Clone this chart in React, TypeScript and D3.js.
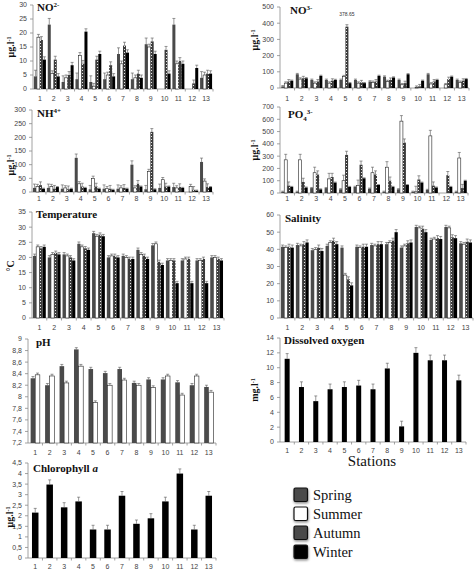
import React from 'react';
import * as d3 from 'd3';

const STATIONS = ['1','2','3','4','5','6','7','8','9','10','11','12','13'];
const SEASONS = ['Spring','Summer','Autumn','Winter'];

// NO2- (µg/l)
const NO2_SPRING = [4.5, 23, 2.5, 3.5, 2.5, 3.5, 12.5, 3.5, 16, 0, 23, 0, 4];
const NO2_SUMMER = [18.5, 5.5, 4, 12, 1, 5, 9, 4, 15, 0, 9, 0, 5];
const NO2_AUTUMN = [17.5, 10.5, 5, 9, 10.5, 8.5, 15.5, 5.5, 17, 14, 10, 2, 5.5];
const NO2_WINTER = [10.5, 4.5, 8.5, 20.5, 12.5, 4.5, 13, 4, 12.5, 5.5, 9, 7.5, 5.5];
const NO2_ERR = [2.2, 1, 1.2, 1];
// NO3- (µg/l)
const NO3_SPRING = [10, 85, 50, 50, 50, 50, 40, 70, 50, 0, 85, 0, 50];
const NO3_SUMMER = [30, 55, 30, 30, 70, 30, 35, 40, 20, 5, 25, 20, 35];
const NO3_AUTUMN = [40, 60, 40, 45, 378.65, 35, 40, 50, 30, 10, 40, 55, 45];
const NO3_WINTER = [45, 60, 75, 50, 30, 30, 75, 65, 85, 45, 50, 70, 55];
const NO3_ERR = [5, 8, 12, 4];
// NH4+ (µg/l)
const NH4_SPRING = [15, 15, 12, 125, 10, 12, 12, 100, 10, 15, 18, 0, 110];
const NH4_SUMMER = [20, 20, 15, 30, 50, 12, 15, 15, 75, 45, 15, 20, 40];
const NH4_AUTUMN = [25, 12, 10, 20, 20, 12, 15, 30, 220, 20, 18, 8, 18];
const NH4_WINTER = [12, 18, 12, 15, 12, 8, 12, 20, 10, 20, 15, 5, 18];
const NH4_ERR = [14, 8, 12, 2];
// PO4 3- (µg/l)
const PO4_SPRING = [10, 10, 40, 40, 30, 50, 35, 10, 30, 10, 25, 0, 10];
const PO4_SUMMER = [270, 270, 165, 115, 100, 60, 165, 210, 585, 10, 465, 0, 285];
const PO4_AUTUMN = [60, 90, 150, 130, 310, 230, 150, 100, 410, 110, 60, 145, 40];
const PO4_WINTER = [50, 45, 30, 85, 50, 120, 65, 50, 65, 85, 45, 50, 100];
const PO4_ERR = [5, 45, 30, 4];
// Temperature (°C)
const TEMP_SPRING = [20.5, 20, 21, 24.5, 28, 20, 20.5, 22.5, 24, 19, 19, 19, 20];
const TEMP_SUMMER = [23.5, 21, 20.5, 23.5, 27, 20.5, 20, 21, 24.5, 19, 19.5, 19, 20];
const TEMP_AUTUMN = [23, 21.5, 20, 23, 27.5, 20.5, 19.5, 20.5, 18.5, 19, 19.5, 19.5, 19.5];
const TEMP_WINTER = [23.5, 21, 19, 22.5, 27, 20, 19.5, 19.5, 17.5, 11.5, 11.5, 11.5, 19];
const TEMP_ERR = [0.6, 0.6, 0.6, 0.6];
// Salinity
const SAL_SPRING = [41.5, 42.5, 39.5, 42, 41, 41.5, 42.5, 43, 41, 53, 45.5, 53, 43.5];
const SAL_SUMMER = [41, 42, 40, 44, 25, 41, 42, 44, 42, 52.5, 46, 52.5, 43];
const SAL_AUTUMN = [41.5, 43, 41, 45, 22.5, 41.5, 43, 45, 43.5, 52, 46.5, 47, 44.5];
const SAL_WINTER = [41, 44, 39, 43, 19, 41.5, 43, 50, 44, 50, 46, 46.5, 44];
const SAL_ERR = [1, 1, 1.5, 1.5];
// pH
const PH_SPRING = [8.32, 8.2, 8.53, 8.82, 8.48, 8.41, 8.48, 8.24, 8.3, 8.3, 8.25, 8.2, 8.17];
const PH_SUMMER = [8.38, 8.36, 8.24, 8.53, 7.9, 8.2, 8.29, 8.2, 8.16, 8.36, 8.03, 8.36, 8.08];
const PH_ERR = [0.03, 0.03];
// Dissolved oxygen (mg/l), winter
const DO_WINTER = [11.2, 7.4, 5.5, 7.1, 7.4, 7.6, 7.1, 9.9, 2.1, 12, 11, 11, 8.3];
const DO_ERR = [0.7, 0.7, 0.7, 0.7, 0.7, 0.7, 0.7, 0.7, 0.7, 0.7, 0.7, 0.7, 0.7];
// Chlorophyll a (µg/l), winter
const CHL_WINTER = [2.15, 3.48, 2.4, 2.68, 1.35, 1.35, 2.95, 1.62, 1.88, 2.68, 4.0, 1.35, 2.95];
const CHL_ERR = [0.2, 0.22, 0.22, 0.2, 0.2, 0.2, 0.2, 0.18, 0.22, 0.2, 0.22, 0.2, 0.2];

const FILL: Record<string, string> = {
  Spring: '#4a4a4a',
  Summer: '#ffffff',
  Autumn: 'url(#dots)',
  Winter: '#000000',
};

type Series = { key: string; values: number[]; err: number[] };
type Spec = {
  id: string;
  title: React.ReactNode;
  unit?: React.ReactNode;
  unitX?: number; unitY?: number;
  x0: number; x1: number; yBot: number; yTop: number;
  domain: [number, number]; step: number; comma?: boolean;
  series: Series[]; barW: number;
  titleX: number; titleY: number; labelY: number;
  note?: { text: string; station: string; series: string };
};

const serif = '"Liberation Serif", "DejaVu Serif", serif';
const sans = '"Liberation Sans", "DejaVu Sans", sans-serif';

const ug = (
  <>μg.l<tspan dy={-3} fontSize={6}>-1</tspan></>
);

function perSeries(err: number[], n: number) {
  return err;
}

function fmt(v: number, comma?: boolean) {
  const s = String(+v.toFixed(2));
  return comma ? s.replace('.', ',') : s;
}

function Panel({ s }: { s: Spec }) {
  const x = d3.scaleBand<string>().domain(STATIONS).range([s.x0, s.x1]);
  const y = d3.scaleLinear().domain(s.domain).range([s.yBot, s.yTop]);
  const n = s.series.length;
  const sub = d3.scaleBand<string>().domain(s.series.map(d => d.key)).range([0, s.barW * n]);
  const ticks = d3.range(s.domain[0], s.domain[1] + s.step / 2, s.step);
  const axisColor = '#8a8a8a';
  return (
    <g>
      {/* y axis */}
      <line x1={s.x0} x2={s.x0} y1={s.yBot} y2={s.yTop} stroke={axisColor} strokeWidth={0.8} />
      {ticks.map((t, i) => (
        <g key={i}>
          <line x1={s.x0 - 3} x2={s.x0} y1={y(t)} y2={y(t)} stroke={axisColor} strokeWidth={0.8} />
          <text x={s.x0 - 6} y={y(t)} dy="0.35em" textAnchor="end" fontFamily={sans} fontSize={7} fill="#444">
            {fmt(t, s.comma)}
          </text>
        </g>
      ))}
      {/* x axis */}
      <line x1={s.x0} x2={s.x1} y1={s.yBot} y2={s.yBot} stroke={axisColor} strokeWidth={0.8} />
      {STATIONS.map(st => (
        <g key={st}>
          <line x1={(x(st) as number) + x.bandwidth()} x2={(x(st) as number) + x.bandwidth()} y1={s.yBot} y2={s.yBot + 2.5} stroke={axisColor} strokeWidth={0.8} />
          <text x={(x(st) as number) + x.bandwidth() / 2} y={s.labelY} dy="0.35em" textAnchor="middle" fontFamily={sans} fontSize={7} fill="#444">{st}</text>
        </g>
      ))}
      {/* bars */}
      {s.series.map((ser) => (
        <g key={ser.key}>
          {ser.values.map((v, i) => {
            const st = STATIONS[i];
            const bx = (x(st) as number) + x.bandwidth() / 2 - (s.barW * n) / 2 + (sub(ser.key) as number);
            const yb = y(s.domain[0]);
            const yv = y(v);
            const e = ser.err[i % ser.err.length];
            const ye = y(v + e);
            const cx = bx + s.barW / 2;
            return (
              <g key={i}>
                {v > s.domain[0] && (
                  <rect x={bx} y={yv} width={s.barW} height={Math.max(0, yb - yv)} fill={FILL[ser.key]}
                    stroke={ser.key === 'Summer' ? '#222' : 'none'} strokeWidth={ser.key === 'Summer' ? 0.6 : 0} />
                )}
                {v > s.domain[0] && (
                  <g stroke="#555" strokeWidth={0.6}>
                    <line x1={cx} x2={cx} y1={yv} y2={ye} />
                    <line x1={cx - 1.5} x2={cx + 1.5} y1={ye} y2={ye} />
                  </g>
                )}
              </g>
            );
          })}
        </g>
      ))}
      {s.note && (() => {
        const ser = s.series.find(d => d.key === s.note!.series)!;
        const i = STATIONS.indexOf(s.note!.station);
        const bx = (x(s.note!.station) as number) + x.bandwidth() / 2 - (s.barW * n) / 2 + (sub(ser.key) as number) + s.barW / 2;
        return <text x={bx} y={y(ser.values[i]) - 11} textAnchor="middle" fontFamily={sans} fontSize={5} fill="#333">{s.note!.text}</text>;
      })()}
      <text x={s.titleX} y={s.titleY} fontFamily={serif} fontWeight="bold" fontSize={11} fill="#111">{s.title}</text>
      {s.unit && (
        <text transform={`translate(${s.unitX},${s.unitY}) rotate(-90)`} textAnchor="middle" fontFamily={serif} fontWeight="bold" fontSize={10} fill="#111">{s.unit}</text>
      )}
    </g>
  );
}

const four = (a: number[], b: number[], c: number[], d: number[], err: number[]): Series[] => [
  { key: 'Spring', values: a, err: [err[0]] },
  { key: 'Summer', values: b, err: [err[1]] },
  { key: 'Autumn', values: c, err: [err[2]] },
  { key: 'Winter', values: d, err: [err[3]] },
];

const SPECS: Spec[] = [
  {
    id: 'no2', title: <>NO<tspan dy={-4} fontSize={7}>2-</tspan></>, unit: ug, unitX: 14, unitY: 47,
    x0: 33, x1: 213, yBot: 89, yTop: 5, domain: [0, 30], step: 5,
    series: four(NO2_SPRING, NO2_SUMMER, NO2_AUTUMN, NO2_WINTER, NO2_ERR), barW: 3,
    titleX: 37, titleY: 11, labelY: 99,
  },
  {
    id: 'no3', title: <>NO<tspan dy={-4} fontSize={7}>3-</tspan></>, unit: ug, unitX: 258, unitY: 40,
    x0: 280, x1: 469, yBot: 88, yTop: 7, domain: [0, 500], step: 100,
    series: four(NO3_SPRING, NO3_SUMMER, NO3_AUTUMN, NO3_WINTER, NO3_ERR), barW: 3,
    titleX: 290, titleY: 14, labelY: 99,
    note: { text: '378.65', station: '5', series: 'Autumn' },
  },
  {
    id: 'nh4', title: <>NH<tspan dy={-4} fontSize={7}>4+</tspan></>, unit: ug, unitX: 14, unitY: 165,
    x0: 32, x1: 213, yBot: 192, yTop: 110, domain: [0, 300], step: 50,
    series: four(NH4_SPRING, NH4_SUMMER, NH4_AUTUMN, NH4_WINTER, NH4_ERR), barW: 3,
    titleX: 37, titleY: 117, labelY: 199,
  },
  {
    id: 'po4', title: <>PO<tspan dy={3} fontSize={7}>4</tspan><tspan dy={-7} fontSize={7}>3-</tspan></>, unit: ug, unitX: 258, unitY: 150,
    x0: 280, x1: 468, yBot: 193, yTop: 107, domain: [0, 700], step: 100,
    series: four(PO4_SPRING, PO4_SUMMER, PO4_AUTUMN, PO4_WINTER, PO4_ERR), barW: 3,
    titleX: 288, titleY: 118, labelY: 199,
  },
  {
    id: 'temp', title: 'Temperature', unit: '°C', unitX: 14, unitY: 266,
    x0: 32, x1: 224, yBot: 318, yTop: 212, domain: [0, 35], step: 5,
    series: four(TEMP_SPRING, TEMP_SUMMER, TEMP_AUTUMN, TEMP_WINTER, TEMP_ERR), barW: 3.2,
    titleX: 36, titleY: 218, labelY: 328,
  },
  {
    id: 'sal', title: 'Salinity',
    x0: 280, x1: 473, yBot: 318, yTop: 215, domain: [0, 60], step: 10,
    series: four(SAL_SPRING, SAL_SUMMER, SAL_AUTUMN, SAL_WINTER, SAL_ERR), barW: 3.2,
    titleX: 285, titleY: 222, labelY: 328,
  },
  {
    id: 'ph', title: 'pH',
    x0: 28, x1: 216, yBot: 443, yTop: 339, domain: [7.2, 9], step: 0.2, comma: true,
    series: [
      { key: 'Spring', values: PH_SPRING, err: [PH_ERR[0]] },
      { key: 'Summer', values: PH_SUMMER, err: [PH_ERR[1]] },
    ], barW: 4.6,
    titleX: 36, titleY: 346, labelY: 453,
  },
  {
    id: 'do', title: 'Dissolved oxygen', unit: <>mg.l<tspan dy={-3} fontSize={6}>-1</tspan></>, unitX: 258, unitY: 390,
    x0: 280, x1: 466, yBot: 442, yTop: 338, domain: [0, 14], step: 2,
    series: [{ key: 'Winter', values: DO_WINTER, err: DO_ERR }], barW: 5,
    titleX: 284, titleY: 344, labelY: 451,
  },
  {
    id: 'chl', title: <>Chlorophyll <tspan fontStyle="italic">a</tspan></>, unit: ug, unitX: 13, unitY: 517,
    x0: 28, x1: 216, yBot: 558, yTop: 463, domain: [0, 4.5], step: 0.5, comma: true,
    series: [{ key: 'Winter', values: CHL_WINTER, err: CHL_ERR }], barW: 6.5,
    titleX: 33, titleY: 472, labelY: 567,
  },
];

export default function App() {
  const legendY = d3.scaleBand<string>().domain(SEASONS).range([487, 563]);
  return (
    <svg width={474} height={569} style={{ position: 'absolute', left: 0, top: 0, background: '#fff' }}>
      <defs>
        <pattern id="dots" width={3} height={3} patternUnits="userSpaceOnUse">
          <rect width={3} height={3} fill="#3c3c3c" />
          <rect x={1} y={1} width={1} height={1} fill="#e8e8e8" />
        </pattern>
        <filter id="shadow" x="-30%" y="-30%" width="160%" height="160%">
          <feDropShadow dx={0.5} dy={1.5} stdDeviation={0.8} floodColor="#000" floodOpacity={0.45} />
        </filter>
      </defs>
      {SPECS.map(s => <Panel key={s.id} s={s} />)}
      <text x={372} y={466} textAnchor="middle" fontFamily={serif} fontSize={15} fill="#111">Stations</text>
      {SEASONS.map(k => {
        const yy = legendY(k) as number;
        return (
          <g key={k}>
            <rect x={294} y={yy + 1} width={13.5} height={13.5} rx={1.5}
              fill={k === 'Autumn' ? '#4a4a4a' : FILL[k]} stroke="#111" strokeWidth={1.2} filter="url(#shadow)" />
            <text x={313} y={yy + 13} fontFamily={serif} fontSize={14.5} fill="#111">{k}</text>
          </g>
        );
      })}
    </svg>
  );
}
